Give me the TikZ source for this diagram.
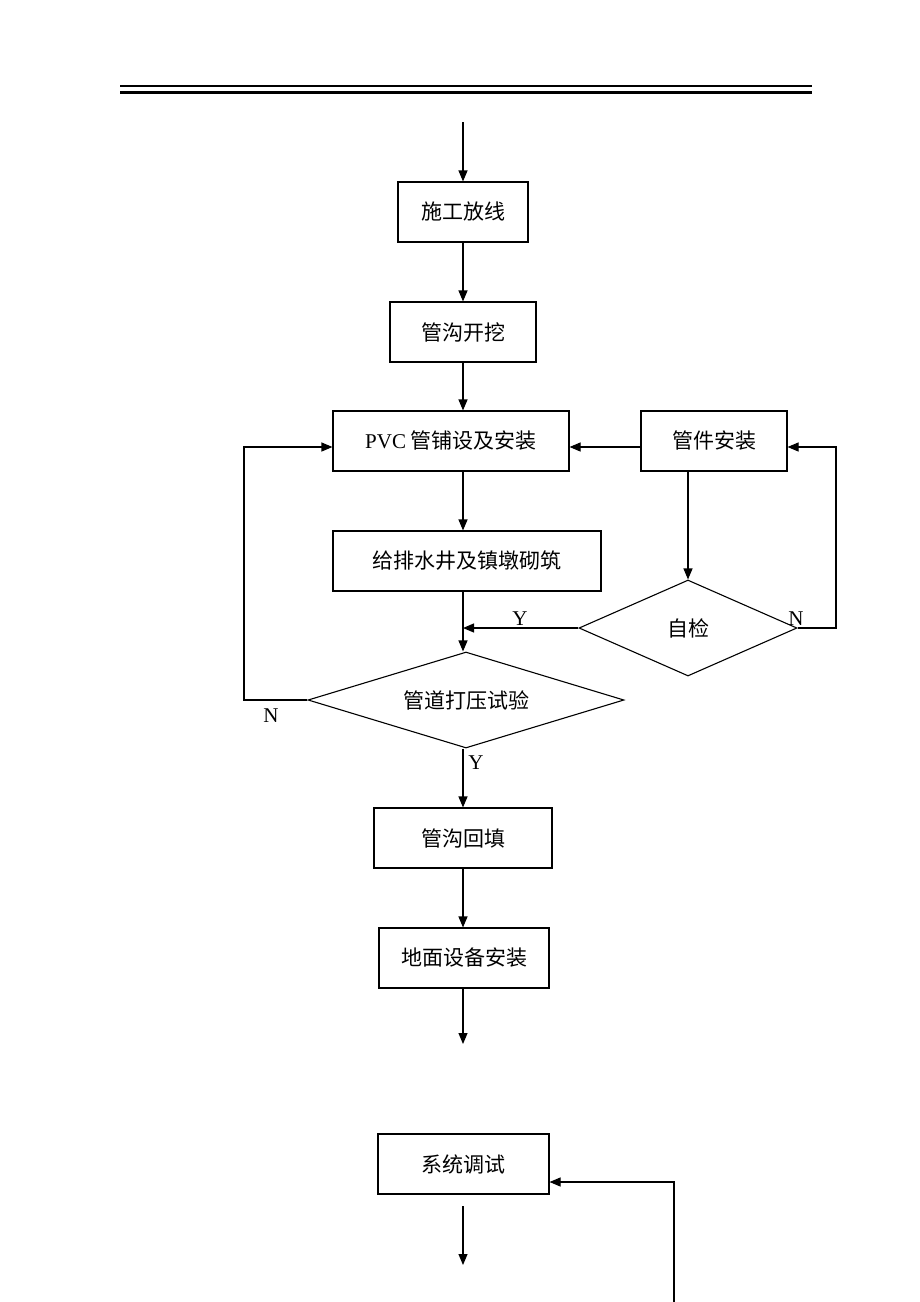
\documentclass[tikz,border=0pt]{standalone}
\usepackage{fontspec}
\setmainfont{Liberation Serif}
\newfontfamily\cjk{Noto Sans CJK SC}[Scale=1.0]
\usetikzlibrary{arrows.meta,shapes.geometric}
\begin{document}
\begin{tikzpicture}[x=1pt,y=-1pt,
  every node/.style={font=\fontsize{21}{25}\selectfont},
  box/.style={draw,line width=1.1pt,inner sep=0pt,minimum height=60pt,font=\fontsize{21}{25}\selectfont\cjk},
  dia/.style={draw,diamond,line width=1.1pt,inner sep=0pt,font=\fontsize{21}{25}\selectfont\cjk},
  arr/.style={line width=1.1pt,-{Triangle[length=11pt,width=9pt]}},
  lab/.style={inner sep=0pt,font=\fontsize{21}{25}\selectfont}]
\useasboundingbox (0,0) rectangle (920,1302);
\draw[line width=1.5pt] (120,86) -- (812,86);
\draw[line width=3pt] (120,92) -- (812,92);

\node[box,minimum width=130pt] (b1) at (463,212) {施工放线};
\node[box,minimum width=146pt] (b2) at (463,332) {管沟开挖};
\node[box,minimum width=236pt] (b3) at (451,441) {{\rmfamily PVC} 管铺设及安装};
\node[box,minimum width=146pt] (b4) at (714,441) {管件安装};
\node[box,minimum width=268pt] (b5) at (467,561) {给排水井及镇墩砌筑};
\node[dia,minimum width=218pt,minimum height=96pt,aspect=2.27] (d1) at (688,628) {自检};
\node[dia,minimum width=316pt,minimum height=96pt,aspect=3.3] (d2) at (466,700) {管道打压试验};
\node[box,minimum width=178pt] (b6) at (463,838) {管沟回填};
\node[box,minimum width=170pt] (b7) at (464,958) {地面设备安装};
\node[box,minimum width=171pt] (b8) at (463.5,1164) {系统调试};

\coordinate (s0) at (463,122);
\coordinate (e7) at (463,1044);
\coordinate (s8) at (463,1206);
\coordinate (e8) at (463,1265);
\coordinate (r1) at (836,628);
\coordinate (r2) at (836,447);
\coordinate (l1) at (244,700);
\coordinate (l2) at (244,447);
\coordinate (m1) at (463,628);
\coordinate (q0) at (674,1302);
\coordinate (q1) at (674,1182);

\draw[arr] (s0) -- (b1.north -| s0);
\draw[arr] (b1.south -| s0) -- (b2.north -| s0);
\draw[arr] (b2.south -| s0) -- (b3.north -| s0);
\draw[arr] (b4.west |- r2) -- (b3.east |- r2);
\draw[arr] (b4.south -| d1.north) -- (d1.north);
\draw[arr] (d1.east) -- (r1) -- (r2) -- (b4.east |- r2);
\draw[arr] (d1.west) -- (m1);
\draw[arr] (b3.south -| s0) -- (b5.north -| s0);
\draw[arr] (b5.south -| s0) -- (d2.north -| s0);
\draw[arr] (d2.west) -- (l1) -- (l2) -- (b3.west |- l2);
\draw[arr] (d2.south -| s0) -- (b6.north -| s0);
\draw[arr] (b6.south -| s0) -- (b7.north -| s0);
\draw[arr] (b7.south -| s0) -- (e7);
\draw[arr] (s8) -- (e8);
\draw[arr] (q0) -- (q1) -- (b8.east |- q1);

\node[lab] (ly1) at (520,619) {Y};
\node[lab] (ln1) at (796,619) {N};
\node[lab] (ln2) at (271,716) {N};
\node[lab] (ly2) at (476,763) {Y};
\end{tikzpicture}
\end{document}
